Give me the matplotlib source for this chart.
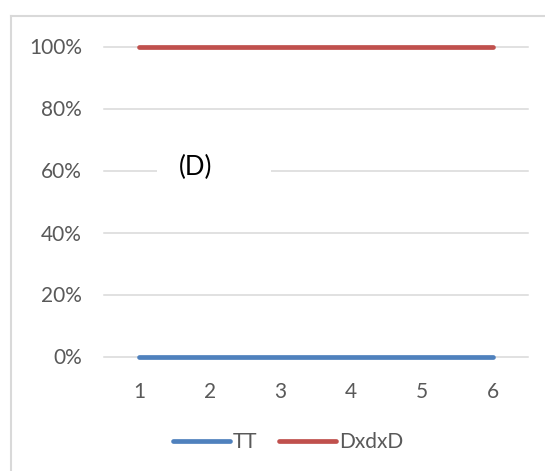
import matplotlib
matplotlib.use("Agg")
import matplotlib.pyplot as plt
from matplotlib.lines import Line2D
from matplotlib.patches import Rectangle
from matplotlib.ticker import PercentFormatter

# Data
categories = [1, 2, 3, 4, 5, 6]
tt = [0.0, 0.0, 0.0, 0.0, 0.0, 0.0]
dxdxd = [1.0, 1.0, 1.0, 1.0, 1.0, 1.0]
series_names = ["TT", "DxdxD"]
y_ticks = [0.0, 0.2, 0.4, 0.6, 0.8, 1.0]
panel_label = "(D)"

W, H = 545, 471
DPI = 100
plt.rcParams["font.family"] = ["Lato", "DejaVu Sans"]

fig = plt.figure(figsize=(W / DPI, H / DPI), dpi=DPI)
fig.patch.set_facecolor("white")

# plot area in pixel coordinates
left_px, right_px = 104, 528
top_px, bottom_px = 46.5, 356.5
ax = fig.add_axes([left_px / W, 1 - bottom_px / H,
                   (right_px - left_px) / W, (bottom_px - top_px) / H])

grid_c = "#D9D9D9"
text_c = "#595959"
blue = "#4F81BD"
red = "#C0504D"
fs = 15

ax.set_xlim(0.5, 6.5)
ax.set_ylim(0, 1)
ax.set_yticks(y_ticks)
ax.yaxis.set_major_formatter(PercentFormatter(1.0, decimals=0))
ax.set_xticks(categories)
ax.set_xticklabels([str(c) for c in categories])

for s in ax.spines.values():
    s.set_visible(False)
ax.tick_params(axis="both", length=0, labelsize=fs, colors=text_c)
ax.tick_params(axis="y", pad=16)
ax.tick_params(axis="x", pad=18)

for yv in y_ticks:
    ax.axhline(yv, color=grid_c, lw=1.1, zorder=1, clip_on=False)

# panel label with a white backing that hides the gridline behind it
ax.add_patch(Rectangle((0.125, 0.56), 0.27, 0.08, transform=ax.transAxes,
                       facecolor="white", edgecolor="none", zorder=2))
ax.text(1.79, 0.61, panel_label, fontsize=18.5, color="black",
        ha="center", va="center", zorder=3)

ax.plot(categories, tt, color=blue, lw=3.4, solid_capstyle="round",
        zorder=4, clip_on=False)
ax.plot(categories, dxdxd, color=red, lw=3.4, solid_capstyle="round",
        zorder=4, clip_on=False)

handles = [Line2D([], [], color=blue, lw=3.4, solid_capstyle="round"),
           Line2D([], [], color=red, lw=3.4, solid_capstyle="round")]
fig.legend(handles, series_names, loc="center", ncol=2,
           bbox_to_anchor=(288 / W, 1 - 442 / H), frameon=False,
           fontsize=fs, labelcolor=text_c, handlelength=2.75,
           handletextpad=0.15, columnspacing=1.0, borderpad=0)

# chart-area border (left and top edges lie inside the image)
fig.add_artist(Line2D([11 / W, 11 / W], [0, 1 - 15.5 / H], color=grid_c,
                      lw=1.5, transform=fig.transFigure))
fig.add_artist(Line2D([11 / W, 1], [1 - 15.5 / H, 1 - 15.5 / H], color=grid_c,
                      lw=1.5, transform=fig.transFigure))

fig.savefig("out.png", dpi=DPI, facecolor="white")
